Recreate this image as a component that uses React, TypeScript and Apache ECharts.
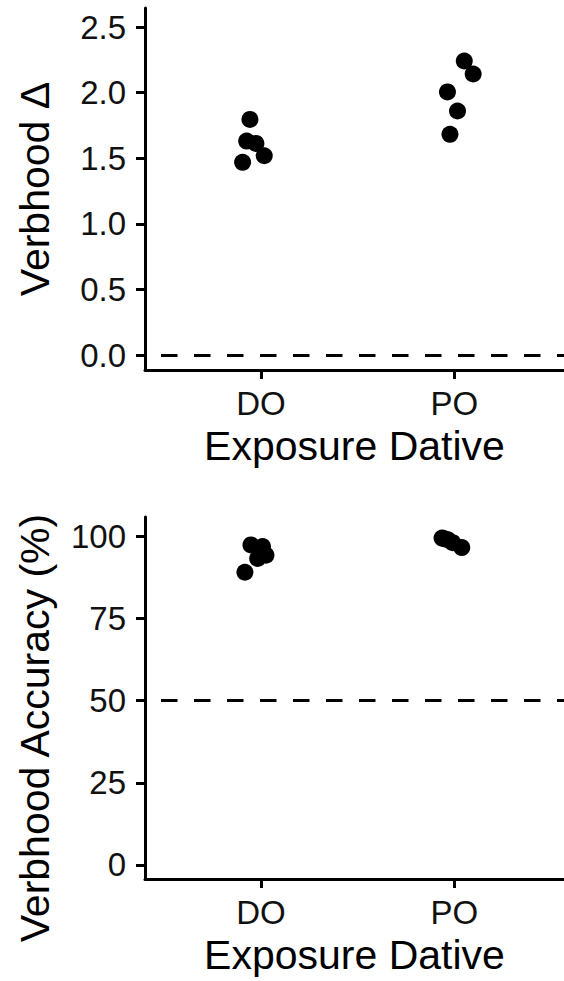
import React, { useEffect, useRef } from "react";
import * as echarts from "echarts";

const categories = ["DO", "PO"];

// Top panel: Verbhood Δ (x = jittered category position, y = value)
const deltaDO: [number, number][] = [
  [0.943, 1.796],
  [0.926, 1.631],
  [0.974, 1.613],
  [1.017, 1.519],
  [0.905, 1.469],
];
const deltaPO: [number, number][] = [
  [2.052, 2.241],
  [2.098, 2.142],
  [1.965, 2.005],
  [2.017, 1.86],
  [1.978, 1.682],
];

// Bottom panel: Verbhood Accuracy (%)
const accDO: [number, number][] = [
  [0.948, 97.3],
  [1.008, 96.8],
  [1.026, 94.2],
  [0.983, 93.2],
  [0.917, 89.0],
];
const accPO: [number, number][] = [
  [1.937, 99.4],
  [1.948, 99.2],
  [1.966, 98.9],
  [1.992, 98.0],
  [2.039, 96.5],
];

const deltaTicks = [0, 0.5, 1, 1.5, 2, 2.5];
const accTicks = [0, 25, 50, 75, 100];
const deltaRef = 0;
const accRef = 50;

const FONT = "Liberation Sans, Arial, Helvetica, sans-serif";
const TICK_FS = 33;
const TITLE_FS = 41;

export default function App() {
  const ref = useRef<HTMLDivElement>(null);
  useEffect(() => {
    if (!ref.current) return;
    document.documentElement.style.overflow = "hidden";
    document.body.style.overflow = "hidden";
    const chart = echarts.init(ref.current, undefined, { renderer: "svg" });

    const axisLine = { show: true, onZero: false, lineStyle: { color: "#000", width: 3 } };
    const axisTick = (vals: number[]) => ({
      show: true,
      length: 9,
      lineStyle: { color: "#000", width: 3 },
      customValues: vals,
    });

    const xAxis = (gi: number) => ({
      type: "value",
      gridIndex: gi,
      min: 0.4,
      max: 2.568,
      splitLine: { show: false },
      axisLine,
      axisTick: axisTick([1, 2]),
      axisLabel: {
        customValues: [1, 2],
        formatter: (v: number) => categories[Math.round(v) - 1] ?? "",
        color: "#111",
        fontSize: TICK_FS,
        fontFamily: FONT,
        margin: 17,
      },
      name: "Exposure Dative",
      nameLocation: "middle",
      nameGap: 55,
      nameTextStyle: { color: "#000", fontSize: TITLE_FS, fontFamily: FONT },
    });

    const yAxis = (
      gi: number,
      min: number,
      max: number,
      ticks: number[],
      name: string,
      fmt: (v: number) => string,
      pad: number[]
    ) => ({
      type: "value",
      gridIndex: gi,
      min,
      max,
      splitLine: { show: false },
      axisLine,
      axisTick: axisTick(ticks),
      axisLabel: {
        customValues: ticks,
        formatter: fmt,
        color: "#111",
        fontSize: TICK_FS,
        fontFamily: FONT,
        margin: 19,
      },
      name,
      nameLocation: "middle",
      nameGap: 90,
      nameTextStyle: { color: "#000", fontSize: TITLE_FS, fontFamily: FONT, padding: pad },
    });

    const dashed = (y: number) => ({
      silent: true,
      symbol: "none",
      label: { show: false },
      lineStyle: { color: "#000", width: 3, type: [16.5, 16.5], dashOffset: 16.5 },
      data: [{ yAxis: y }],
    });

    const pts = (data: [number, number][], gi: number, ml?: any) => ({
      type: "scatter",
      xAxisIndex: gi,
      yAxisIndex: gi,
      data,
      symbolSize: 17,
      itemStyle: { color: "#000", opacity: 1 },
      ...(ml ? { markLine: ml } : {}),
    });

    chart.setOption({
      animation: false,
      backgroundColor: "#fff",
      grid: [
        { left: 145, right: 0, top: 8, height: 362 },
        { left: 145, right: 0, top: 517, height: 362 },
      ],
      xAxis: [xAxis(0), xAxis(1)],
      yAxis: [
        yAxis(0, -0.114, 2.645, deltaTicks, "Verbhood Δ", (v) => v.toFixed(1), [0, 0, 0, 0]),
        yAxis(1, -4.26, 105.8, accTicks, "Verbhood Accuracy (%)", (v) => String(v), [0, 60, 0, 0]),
      ],
      series: [
        pts(deltaDO, 0, dashed(deltaRef)),
        pts(deltaPO, 0),
        pts(accDO, 1, dashed(accRef)),
        pts(accPO, 1),
      ],
    });
    return () => chart.dispose();
  }, []);
  return <div ref={ref} style={{ width: 564, height: 981, position: "fixed", left: 0, top: 0 }} />;
}
